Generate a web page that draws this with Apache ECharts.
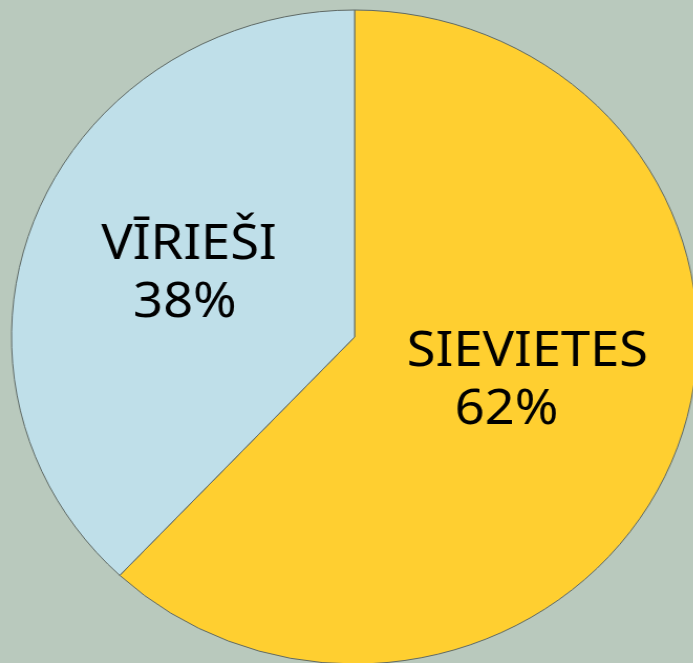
<!DOCTYPE html>
<html>
<head>
<meta charset="utf-8">
<script src="https://cdn.jsdelivr.net/npm/echarts@6/dist/echarts.min.js"></script>
<style>
  html, body { margin: 0; padding: 0; background: #b9c9bd; overflow: hidden; }
  /* the reference pie is slightly wider than tall, so stretch the canvas horizontally */
  #chart { width: 661px; height: 663px; transform: scaleX(1.049); transform-origin: 0 0; }
</style>
</head>
<body>
<div id="chart"></div>
<script>
// Data
const categories = ['SIEVIETES', 'VĪRIEŠI'];
const shares = [62, 38];
const sliceColors = ['#ffcf30', '#bfdfe9'];

const chart = echarts.init(document.getElementById('chart'));

const textBase = { color: '#000', fontFamily: 'Noto Sans', fontSize: 50, lineHeight: 58 };

chart.setOption({
  backgroundColor: '#b9c9bd',
  animation: false,
  series: [
    {
      type: 'pie',
      center: [338, 337],
      radius: 327,
      startAngle: 90,
      clockwise: true,
      data: categories.map((name, i) => ({
        name,
        value: shares[i],
        itemStyle: { color: sliceColors[i] }
      })),
      itemStyle: {
        borderColor: '#5f6a66',
        borderWidth: 1
      },
      label: {
        position: 'inside',
        // percentage line sits a little left of the name in the reference
        formatter: (p) => p.name + '\n{' + (p.dataIndex === 0 ? 'pa' : 'pb') + '|' + p.value + '%}',
        ...textBase,
        align: 'center',
        rich: {
          pa: { ...textBase, padding: [0, 40, 0, 0] },
          pb: { ...textBase, padding: [0, 8, 0, 0] }
        }
      },
      // small nudges so labels sit where they do in the reference
      labelLayout: function (params) {
        return params.dataIndex === 0 ? { dx: 10, dy: -18 } : { dx: -3, dy: -2 };
      },
      labelLine: { show: false },
      emphasis: { disabled: true }
    }
  ]
});
</script>
</body>
</html>
